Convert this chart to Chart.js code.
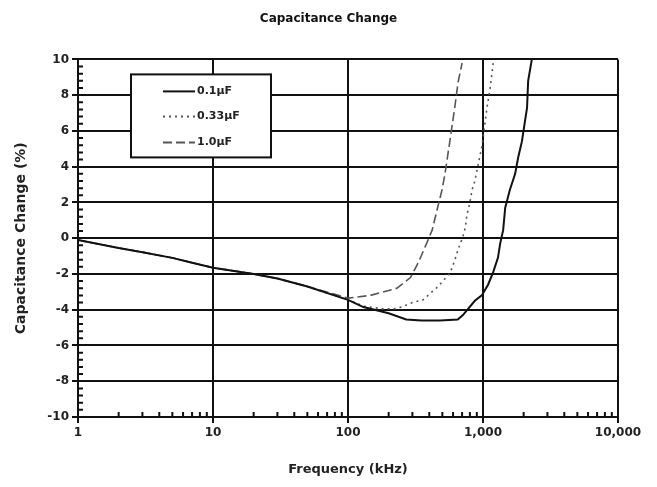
<!DOCTYPE html>
<html lang="en">
<head>
<meta charset="UTF-8">
<title>Capacitance Change</title>
<style>
  body { margin: 0; background: #fff; }
  .wrap { position: relative; width: 657px; height: 487px; }
</style>
</head>
<body>
<div class="wrap">
  <canvas id="grafico"></canvas>
</div>

<script src="https://cdn.jsdelivr.net/npm/chart.js"></script>
<script>
// dados (frequencia em kHz, variacao em %)
const seriesLabels = ['0.1µF', '0.33µF', '1.0µF'];

const freq01 = [1, 2, 3, 5, 7, 10, 20, 30, 50, 100, 130, 200, 270, 350, 480, 650, 710, 870, 980, 1090, 1190, 1290, 1340, 1410, 1460, 1580, 1730, 1820, 1940, 2120, 2160, 2300];
const cap01 = [-0.1, -0.55, -0.78, -1.1, -1.37, -1.65, -2.0, -2.25, -2.7, -3.45, -3.85, -4.2, -4.55, -4.6, -4.6, -4.55, -4.3, -3.5, -3.2, -2.6, -1.9, -1.1, -0.3, 0.45, 1.7, 2.7, 3.6, 4.5, 5.4, 7.3, 8.8, 10];

const freq033 = [1, 2, 3, 5, 7, 10, 20, 30, 50, 100, 130, 180, 220, 250, 300, 360, 405, 465, 570, 620, 650, 710, 740, 760, 800, 830, 870, 920, 985, 1070, 1130, 1190];
const cap033 = [-0.1, -0.55, -0.78, -1.1, -1.37, -1.65, -2.0, -2.25, -2.7, -3.45, -3.8, -3.95, -3.95, -3.85, -3.6, -3.45, -3.1, -2.7, -1.95, -1.2, -0.7, 0.1, 0.6, 1.3, 2.0, 2.7, 3.2, 4.1, 5.2, 7.3, 8.4, 9.8];

const freq10 = [1, 2, 3, 5, 7, 10, 20, 30, 50, 100, 146, 230, 290, 330, 372, 420, 456, 497, 523, 570, 620, 653, 700];
const cap10 = [-0.1, -0.55, -0.78, -1.1, -1.37, -1.65, -2.0, -2.25, -2.7, -3.35, -3.2, -2.8, -2.2, -1.4, -0.5, 0.45, 1.56, 2.7, 3.6, 5.5, 7.4, 8.7, 9.8];

const xTicks = [1, 10, 100, 1000, 10000];
const xTickLabels = ['1', '10', '100', '1,000', '10,000'];

const fonte = 'DejaVu Sans';

function pontos(xs, ys) {
  return xs.map((x, i) => ({ x: x, y: ys[i] }));
}

// marcas menores nos eixos
const marcasMenores = {
  id: 'marcasMenores',
  beforeDatasetsDraw(chart) {
    const ctx = chart.ctx;
    const xs = chart.scales.x;
    const ys = chart.scales.y;
    ctx.save();
    ctx.strokeStyle = '#111';
    ctx.lineWidth = 2;
    ctx.beginPath();
    for (let i = -25; i <= 25; i++) {
      if (i % 5 === 0) continue;
      const py = ys.getPixelForValue(i * 0.4);
      ctx.moveTo(xs.left, py);
      ctx.lineTo(xs.left + 5, py);
    }
    for (let d = 1; d < 10000; d *= 10) {
      for (let m = 2; m <= 9; m++) {
        const px = xs.getPixelForValue(m * d);
        ctx.moveTo(px, ys.bottom);
        ctx.lineTo(px, ys.bottom - 5);
      }
    }
    ctx.stroke();
    ctx.restore();
  }
};

// legenda em caixa dentro do grafico
const caixaLegenda = {
  id: 'caixaLegenda',
  afterDatasetsDraw(chart) {
    const ctx = chart.ctx;
    const a = chart.chartArea;
    const bx = a.left + 53, by = a.top + 15;
    ctx.save();
    ctx.fillStyle = '#fff';
    ctx.fillRect(bx, by, 140, 83);
    ctx.strokeStyle = '#111';
    ctx.lineWidth = 2;
    ctx.strokeRect(bx, by, 140, 83);
    const linhas = [32, 57, 83];
    chart.data.datasets.forEach((ds, i) => {
      const y = a.top + linhas[i];
      ctx.beginPath();
      ctx.strokeStyle = ds.borderColor;
      ctx.lineWidth = 2;
      ctx.setLineDash(ds.borderDash || []);
      ctx.moveTo(a.left + 85, y);
      ctx.lineTo(a.left + 117, y);
      ctx.stroke();
      ctx.setLineDash([]);
      ctx.fillStyle = '#222';
      ctx.font = 'bold 11px "' + fonte + '"';
      ctx.textBaseline = 'middle';
      ctx.fillText(ds.label, a.left + 119, y);
    });
    ctx.restore();
  }
};

const ctx = document.getElementById('grafico').getContext('2d');
new Chart(ctx, {
  type: 'line',
  data: {
    datasets: [
      { label: seriesLabels[0], data: pontos(freq01, cap01), borderColor: '#111', borderWidth: 2 },
      { label: seriesLabels[1], data: pontos(freq033, cap033), borderColor: '#555', borderWidth: 1.6, borderDash: [2, 4] },
      { label: seriesLabels[2], data: pontos(freq10, cap10), borderColor: '#555', borderWidth: 1.6, borderDash: [9, 4] }
    ]
  },
  options: {
    responsive: true,
    maintainAspectRatio: false,
    animation: false,
    layout: { padding: 0 },
    elements: { point: { radius: 0 }, line: { tension: 0 } },
    scales: {
      x: {
        type: 'logarithmic',
        min: 1,
        max: 10000,
        afterBuildTicks: (s) => { s.ticks = xTicks.map(v => ({ value: v })); },
        afterFit: (s) => { s.height = 70; },
        grid: { color: '#111', lineWidth: 2, tickLength: 6, tickColor: '#111' },
        border: { color: '#111', width: 2 },
        ticks: {
          color: '#222',
          padding: 3,
          maxRotation: 0,
          autoSkip: false,
          font: { family: fonte, size: 12, weight: 'bold' },
          callback: (v) => {
            const i = xTicks.indexOf(v);
            return i >= 0 ? xTickLabels[i] : '';
          }
        },
        title: {
          display: true,
          text: 'Frequency (kHz)',
          color: '#222',
          font: { family: fonte, size: 13, weight: 'bold' },
          padding: { top: 0, bottom: 10 }
        }
      },
      y: {
        min: -10,
        max: 10,
        afterFit: (s) => { s.width = 78; },
        grid: { color: '#111', lineWidth: 2, tickLength: 6, tickColor: '#111' },
        border: { color: '#111', width: 2 },
        ticks: {
          stepSize: 2,
          color: '#222',
          padding: 3,
          font: { family: fonte, size: 12, weight: 'bold' }
        },
        title: {
          display: true,
          text: 'Capacitance Change (%)',
          color: '#222',
          font: { family: fonte, size: 14, weight: 'bold' },
          padding: { top: 13, bottom: 0 }
        }
      },
      // eixo vazio a direita so para reservar a margem
      margemDireita: {
        type: 'linear',
        position: 'right',
        afterFit: (s) => { s.width = 39; },
        grid: { display: false },
        border: { display: false },
        ticks: { display: false }
      }
    },
    plugins: {
      legend: { display: false },
      tooltip: { enabled: false },
      title: {
        display: true,
        text: 'Capacitance Change',
        color: '#111',
        font: { family: fonte, size: 12, weight: 'bold' },
        padding: { top: 12, bottom: 33 }
      }
    }
  },
  plugins: [marcasMenores, caixaLegenda]
});
</script>
</body>
</html>
